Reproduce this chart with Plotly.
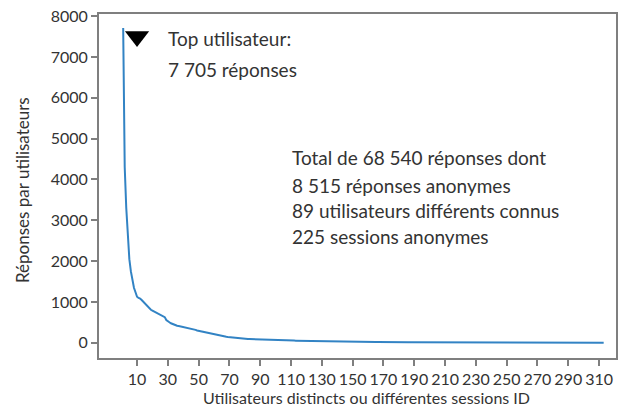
import plotly.graph_objects as go

# Réponses par utilisateur / session, triées par ordre décroissant
responses = [
    7705, 4300, 3300, 2600, 2050, 1750, 1520, 1350, 1240, 1130,
    1100, 1085, 1050, 1010, 960, 930, 890, 850, 810, 790,
    770, 745, 735, 720, 700, 680, 655, 630, 560, 520,
    505, 480, 460, 445, 430, 420, 412, 405, 395, 385,
    376, 368, 360, 352, 346, 340, 330, 318, 305, 296,
    288, 279, 270, 262, 253, 244, 236, 226, 217, 208,
    200, 192, 184, 176, 169, 162, 156, 150, 144, 139,
    134, 129, 125, 121, 117, 114, 111, 108, 105, 102,
    99, 97, 95, 93, 91, 89, 87, 85, 83, 81,
    80, 78, 77, 75, 74, 73, 71, 70, 69, 68,
    67, 66, 65, 64, 63, 62, 61, 60, 59, 58,
    57, 56, 55, 54, 53, 52, 51, 50, 49, 48,
    47, 46, 46, 45, 44, 43, 43, 42, 41, 40,
    40, 39, 38, 38, 37, 36, 36, 35, 35, 34,
    33, 33, 32, 32, 31, 31, 30, 30, 29, 29,
    28, 28, 27, 27, 26, 26, 25, 25, 25, 24,
    24, 23, 23, 23, 22, 22, 21, 21, 21, 20,
    20, 20, 19, 19, 19, 18, 18, 18, 17, 17,
    17, 16, 16, 16, 16, 15, 15, 15, 14, 14,
    14, 14, 13, 13, 13, 13, 12, 12, 12, 12,
    11, 11, 11, 11, 11, 10, 10, 10, 10, 10,
    9, 9, 9, 9, 9, 9, 8, 8, 8, 8,
    8, 8, 7, 7, 7, 7, 7, 7, 7, 6,
    6, 6, 6, 6, 6, 6, 6, 5, 5, 5,
    5, 5, 5, 5, 5, 5, 5, 4, 4, 4,
    4, 4, 4, 4, 4, 4, 4, 4, 3, 3,
    3, 3, 3, 3, 3, 3, 3, 3, 3, 3,
    3, 2, 2, 2, 2, 2, 2, 2, 2, 2,
    2, 2, 2, 2, 2, 2, 2, 2, 1, 1,
    1, 1, 1, 1, 1, 1, 1, 1, 1, 1,
    1, 1, 1, 1, 1, 1, 1, 1, 1, 1,
    1, 1, 1,
]
users = list(range(1, len(responses) + 1))

x_ticks = [10, 30, 50, 70, 90, 110, 130, 150, 170, 190, 210, 230, 250, 270, 290, 310]
y_ticks = [0, 1000, 2000, 3000, 4000, 5000, 6000, 7000, 8000]

top_marker_x = [10]
top_marker_y = [7500]

top_lines = ["Top utilisateur:", "7 705 réponses"]
total_lines = [
    "Total de 68 540 réponses dont",
    "8 515 réponses anonymes",
    "89 utilisateurs différents connus",
    "225 sessions anonymes",
]

FONT = "Lato"
TEXT_COLOUR = "#333333"
AXIS_COLOUR = "#7f7f7f"
LINE_COLOUR = "#3283c4"

W, H = 619, 410
M = dict(l=99, r=3, t=14, b=52)

fig = go.Figure()

fig.add_trace(
    go.Scatter(
        x=users,
        y=responses,
        mode="lines",
        line=dict(color=LINE_COLOUR, width=2),
        showlegend=False,
    )
)

# Marqueur du top utilisateur
fig.add_trace(
    go.Scatter(
        x=top_marker_x,
        y=top_marker_y,
        mode="markers",
        marker=dict(symbol="triangle-down", size=21, color="black"),
        showlegend=False,
    )
)

# Texte : une annotation par ligne pour garder l'interligne du modèle
for text, y in zip(top_lines, [7440, 6700]):
    fig.add_annotation(
        x=29, y=y, xref="x", yref="y", text=text, showarrow=False,
        xanchor="left", yanchor="middle",
        font=dict(family=FONT, size=19, color=TEXT_COLOUR),
    )
for text, y in zip(total_lines, [4526, 3841, 3229, 2593]):
    fig.add_annotation(
        x=109.5, y=y, xref="x", yref="y", text=text, showarrow=False,
        xanchor="left", yanchor="middle",
        font=dict(family=FONT, size=19, color=TEXT_COLOUR),
    )

# Titres des axes placés à la main (pixels -> coordonnées papier)
pw = W - M["l"] - M["r"]
ph = H - M["t"] - M["b"]
fig.add_annotation(
    x=(22 - M["l"]) / pw, y=(H - M["b"] - 190) / ph, xref="paper", yref="paper",
    text="Réponses par utilisateurs", textangle=-90, showarrow=False,
    xanchor="center", yanchor="middle",
    font=dict(family=FONT, size=17, color=TEXT_COLOUR),
)
fig.add_annotation(
    x=(366 - M["l"]) / pw, y=(H - M["b"] - 397) / ph, xref="paper", yref="paper",
    text="Utilisateurs distincts ou différentes sessions ID", showarrow=False,
    xanchor="center", yanchor="middle",
    font=dict(family=FONT, size=16, color=TEXT_COLOUR),
)

axis_common = dict(
    showline=True,
    mirror=True,
    linecolor=AXIS_COLOUR,
    linewidth=2,
    ticks="outside",
    ticklen=6,
    tickwidth=1.5,
    tickcolor=AXIS_COLOUR,
    showgrid=False,
    zeroline=False,
    automargin=False,
    tickfont=dict(family=FONT, size=16, color=TEXT_COLOUR),
)

fig.update_layout(
    width=W,
    height=H,
    margin=M,
    paper_bgcolor="white",
    plot_bgcolor="white",
    xaxis=dict(range=[-14.7, 321], tickvals=x_ticks, **axis_common),
    yaxis=dict(range=[-370, 8050], tickvals=y_ticks, **axis_common),
)

# la marge par défaut du <body> décale la figure de 8 px
fig.write_html(
    "out.html",
    config={"displayModeBar": False},
    post_script="document.body.style.margin = '0';",
)
